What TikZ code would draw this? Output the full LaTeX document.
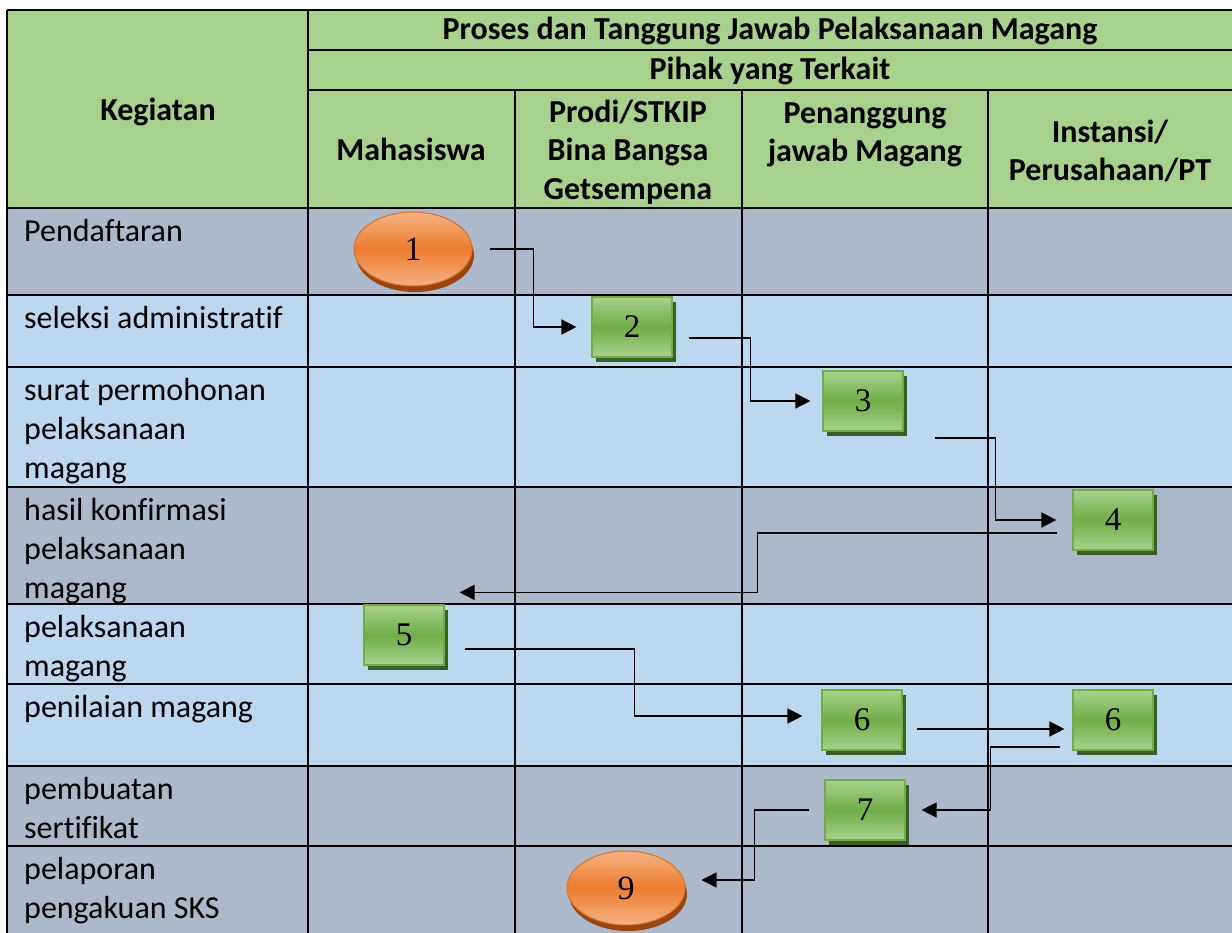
\documentclass[tikz,border=0pt]{standalone}
\usepackage{fontspec}
\setmainfont{Carlito}[Ligatures={NoCommon}]
\newfontfamily\numfont{Liberation Serif}
\usetikzlibrary{arrows.meta,shadows,shapes.geometric,calc}

\definecolor{hdrgreen}{HTML}{A9D18E}
\definecolor{rowgray}{HTML}{ADB9CA}
\definecolor{rowblue}{HTML}{BDD7EE}
\definecolor{boxlight}{HTML}{A9D18E}
\definecolor{boxmid}{HTML}{70AD47}
\definecolor{boxline}{HTML}{70AD47}
\definecolor{boxshadow}{HTML}{3B5E27}
\definecolor{orlight}{HTML}{F4B183}
\definecolor{ormid}{HTML}{ED7D31}
\definecolor{orshadow}{HTML}{9A4510}

\begin{document}
\begin{tikzpicture}[x=1pt,y=-1pt,
  grid/.style={line width=2pt,black},
  conn/.style={line width=1.5pt,black,-{Triangle[length=15pt,width=15pt]}},
  hdr/.style={font=\fontsize{32}{38.5}\selectfont\bfseries, align=center, inner sep=0pt},
  lbl/.style={font=\fontsize{32}{39}\selectfont, align=left, anchor=north west, inner sep=0pt},
  stepbox/.style={rectangle, minimum width=80pt, minimum height=60pt, draw=boxline, line width=1.2pt,
     top color=boxlight, bottom color=boxlight, middle color=boxmid,
     general shadow={fill=boxshadow, shadow xshift=4pt, shadow yshift=-5pt},
     font=\numfont\fontsize{33}{33}\selectfont, inner sep=0pt},
  term/.style={ellipse, minimum width=118pt, minimum height=74pt, inner sep=0pt, draw=ormid!90!black, line width=1pt,
     top color=orlight, bottom color=orlight, middle color=ormid,
     general shadow={fill=orshadow, shadow xshift=2pt, shadow yshift=-6pt},
     font=\numfont\fontsize{34}{34}\selectfont}
]
\useasboundingbox (0,0) rectangle (1232,933);
\clip (0,0) rectangle (1232,933);
% fills
\fill[hdrgreen] (7,10) rectangle (1240,208);
\fill[rowgray] (7,208) rectangle (1240,295);
\fill[rowblue] (7,295) rectangle (1240,487);
\fill[rowgray] (7,487) rectangle (1240,604);
\fill[rowblue] (7,604) rectangle (1240,766);
\fill[rowgray] (7,766) rectangle (1240,940);
% grid
\draw[grid] (7,10) -- (1240,10);
\draw[grid] (308,50) -- (1240,50);
\draw[grid] (308,90) -- (1240,90);
\foreach \y in {208,295,367,487,604,684,766,846} \draw[grid] (7,\y) -- (1240,\y);
\draw[grid] (7,10) -- (7,940);
\draw[grid] (308,10) -- (308,940);
\foreach \x in {515,742,988} \draw[grid] (\x,90) -- (\x,940);

% header texts
\node[hdr, anchor=base] (title) at (770,40) {Proses dan Tanggung Jawab Pelaksanaan Magang};
\node[hdr, anchor=base] (pihak) at (770,80) {Pihak yang Terkait};
\node[hdr, anchor=base] (keg) at (158,121) {Kegiatan};
\node[hdr, anchor=base] (mhs) at (411,161) {Mahasiswa};
\node[hdr, anchor=north] (prodi) at (628,95) {\strut Prodi/STKIP\\Bina Bangsa\\Getsempena};
\node[hdr, anchor=north] (pj) at (865,96) {\strut Penanggung\\jawab Magang};
\node[hdr, anchor=north] (inst) at (1110,115) {\strut Instansi/\\Perusahaan/PT};

% row labels
\node[lbl] (r1) at (24,214) {\strut Pendaftaran};
\node[lbl] (r2) at (24,301) {\strut seleksi administratif};
\node[lbl] (r3) at (24,373) {\strut surat permohonan\\pelaksanaan\\magang};
\node[lbl] (r4) at (24,493) {\strut hasil konfirmasi\\pelaksanaan\\magang};
\node[lbl] (r5) at (24,610) {\strut pelaksanaan\\magang};
\node[lbl] (r6) at (24,690) {\strut penilaian magang};
\node[lbl] (r7) at (24,772) {\strut pembuatan\\sertifikat};
\node[lbl] (r8) at (24,852) {\strut pelaporan\\pengakuan SKS};

% process nodes
\node[term] (e1) at (413,249) {1};
\node[stepbox] (b2) at (632,327) {2};
\node[stepbox] (b3) at (863,401) {3};
\node[stepbox] (b4) at (1113,520) {4};
\node[stepbox] (b5) at (404,635) {5};
\node[stepbox] (b6a) at (862,720) {6};
\node[stepbox] (b6b) at (1113,720) {6};
\node[stepbox] (b7) at (865,810) {7};
\node[term] (e9) at (626,888) {9};
\coordinate (c45end) at ([xshift=15pt,yshift=12pt]b5.north east);

% connectors
\draw[conn] ([xshift=17pt]e1.east) -- ++(44,0) |- ([xshift=-15pt]b2.west);
\draw[conn] ([xshift=16pt,yshift=-11pt]b2.east) -- ++(62,0) |- ([xshift=-12pt]b3.west);
\draw[conn] ([xshift=31pt,yshift=-37pt]b3.east) -- ++(61,0) |- ([xshift=-16pt]b4.west);
\draw[conn] ([xshift=-15pt,yshift=-13pt]b4.west) -- ++(-300,0) |- (c45end);
\draw[conn] ([xshift=20pt,yshift=-14pt]b5.east) -- ++(170,0) |- ([xshift=-19pt,yshift=4pt]b6a.west);
\draw[conn] ([xshift=14pt,yshift=-9pt]b6a.east) -- ([xshift=-8pt,yshift=-9pt]b6b.west);
\draw[conn] ([xshift=-12pt,yshift=-27pt]b6b.west) -- ++(-70,0) |- ([xshift=16pt]b7.east);
\draw[conn] ([xshift=-15pt]b7.west) -- ++(-55,0) |- ([xshift=16pt,yshift=8pt]e9.east);
\end{tikzpicture}
\end{document}
